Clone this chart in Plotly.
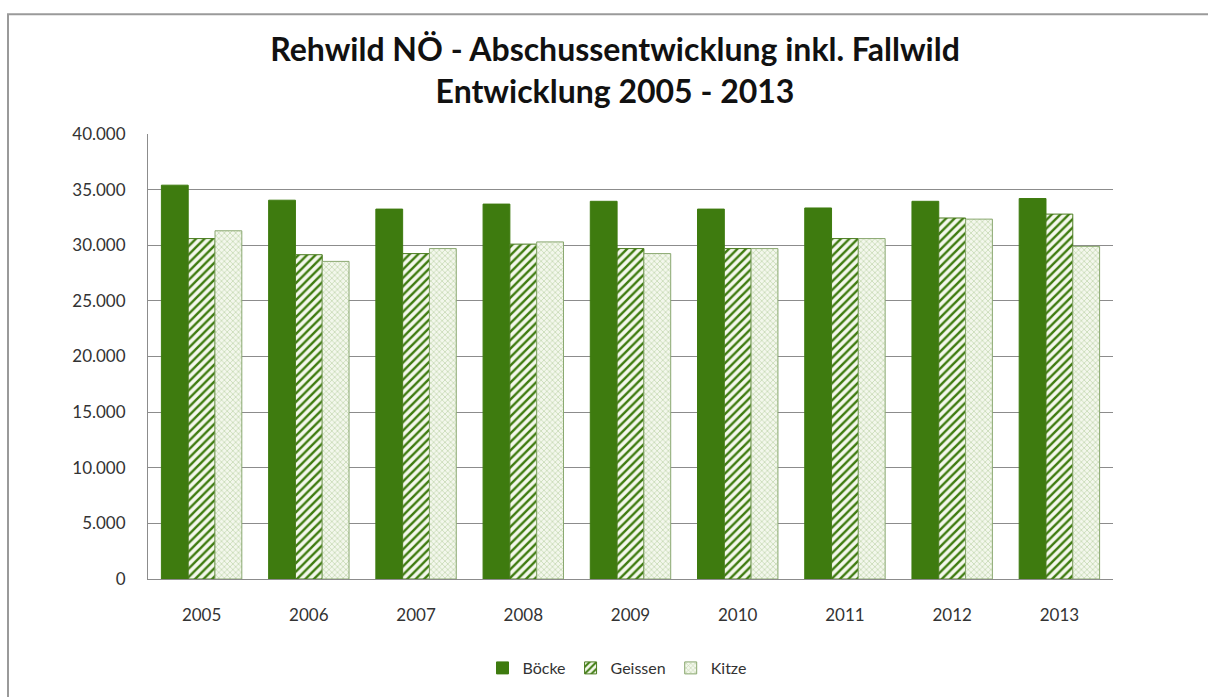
import plotly.graph_objects as go

years = ["2005", "2006", "2007", "2008", "2009", "2010", "2011", "2012", "2013"]
boecke = [35400, 34050, 33250, 33700, 33950, 33250, 33350, 33950, 34200]
geissen = [30600, 29150, 29250, 30100, 29700, 29700, 30600, 32450, 32800]
kitze = [31300, 28550, 29700, 30300, 29250, 29700, 30600, 32350, 29900]

fig = go.Figure()
fig.add_trace(go.Bar(
    name="Böcke", x=years, y=boecke,
    marker=dict(color="#3e7b0f", line=dict(color="#3e7b0f", width=1)),
))
fig.add_trace(go.Bar(
    name="Geissen", x=years, y=geissen,
    marker=dict(color="#ffffff", line=dict(color="#4a7c1f", width=1),
                pattern=dict(shape="/", fgcolor="#3e7b0f", bgcolor="#f4f8ec",
                             size=6, solidity=0.4, fillmode="replace")),
))
fig.add_trace(go.Bar(
    name="Kitze", x=years, y=kitze,
    marker=dict(color="#eef4e4", line=dict(color="#8aa870", width=1),
                pattern=dict(shape="x", fgcolor="#bdd2a6", bgcolor="#f3f7ec",
                             size=4, solidity=0.3, fillmode="replace")),
))

L, R, T, B = 148, 95, 134, 113
W, H = 1208, 697
pw, ph = W - L - R, H - T - B
def px(x):
    return (x - L) / pw
def py(y):
    return (H - B - y) / ph

fig.update_layout(
    width=W, height=H,
    margin=dict(l=L, r=R, t=T, b=B),
    paper_bgcolor="white", plot_bgcolor="white",
    separators=",.",
    barmode="group", bargap=0.25, bargroupgap=0,
    font=dict(family="Lato, Open Sans, sans-serif", size=16, color="#333333"),
    title=dict(
        text="<b>Rehwild NÖ - Abschussentwicklung inkl. Fallwild<br>Entwicklung 2005 - 2013</b>",
        x=px(615), xref="paper", xanchor="center",
        y=1 - 61 / H, yanchor="middle",
        font=dict(size=32, color="#111111", family="Lato, Open Sans, sans-serif"),
    ),
    legend=dict(orientation="h", x=px(617), xanchor="center", y=py(674), yanchor="middle",
                font=dict(size=16, color="#333333"), itemwidth=30, traceorder="normal"),
    shapes=[dict(type="rect", xref="paper", yref="paper",
                 x0=px(8), y0=py(720), x1=px(1230), y1=py(13),
                 line=dict(color="#9a9a9a", width=2), layer="below")],
)
fig.update_yaxes(
    range=[0, 40000], dtick=5000, tickformat=",d",
    showgrid=True, gridcolor="#8c8c8c", gridwidth=1,
    showline=True, linecolor="#8c8c8c", ticks="", ticklabelstandoff=18,
    zeroline=False, tickfont=dict(size=17, color="#333333"),
)
fig.update_xaxes(
    showline=True, linecolor="#8c8c8c", ticks="", ticklabelstandoff=21,
    tickfont=dict(size=17, color="#333333"),
)

fig.write_html("out.html")
